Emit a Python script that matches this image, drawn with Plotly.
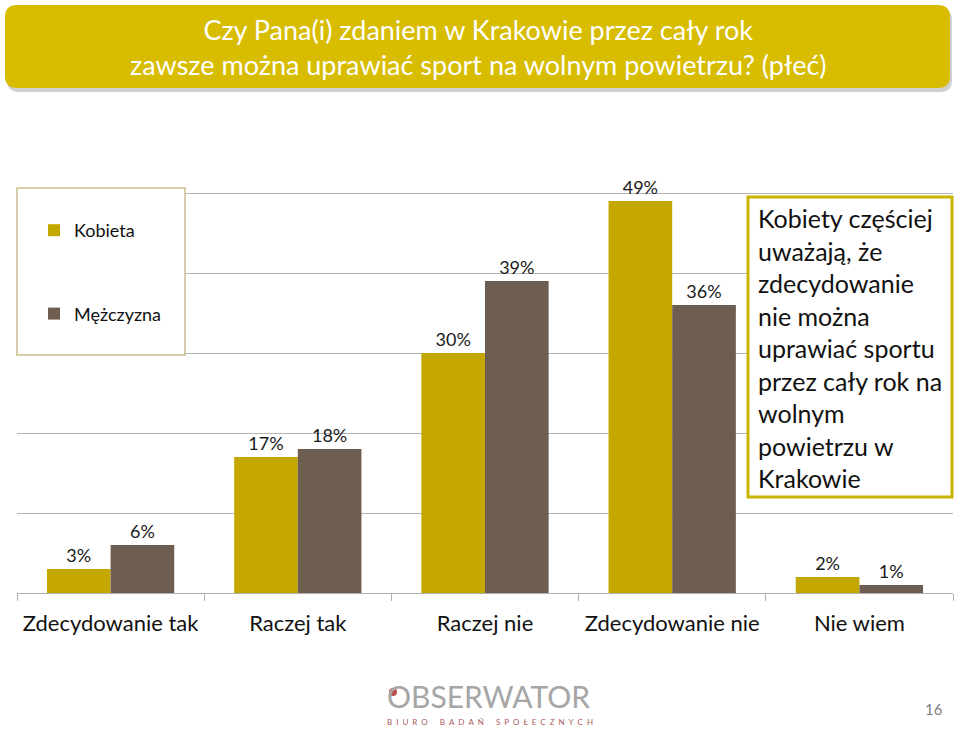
import plotly.graph_objects as go

categories = ["Zdecydowanie tak", "Raczej tak", "Raczej nie", "Zdecydowanie nie", "Nie wiem"]
kobieta = [3, 17, 30, 49, 2]
mezczyzna = [6, 18, 39, 36, 1]
series_names = ["Kobieta", "Mężczyzna"]

title_lines = ["Czy Pana(i) zdaniem w Krakowie przez cały rok",
               "zawsze można uprawiać sport na wolnym powietrzu? (płeć)"]
note_lines = ["Kobiety częściej", "uważają, że", "zdecydowanie", "nie można",
              "uprawiać sportu", "przez cały rok na", "wolnym", "powietrzu w", "Krakowie"]
logo_text = "OBSERWATOR"
logo_sub = "BIURO BADAŃ SPOŁECZNYCH"
page_no = "16"

W, H = 960, 731
L, R, T, B = 17, 7, 113, 138
PW = W - L - R
PH = H - T - B
FONT = "Lato"


def px(x):
    return (x - L) / PW


def py(y):
    return (H - B - y) / PH


def rounded_path(x0, y0, x1, y1, r):
    return (f"M {px(x0 + r)},{py(y0)} L {px(x1 - r)},{py(y0)} "
            f"Q {px(x1)},{py(y0)} {px(x1)},{py(y0 + r)} "
            f"L {px(x1)},{py(y1 - r)} Q {px(x1)},{py(y1)} {px(x1 - r)},{py(y1)} "
            f"L {px(x0 + r)},{py(y1)} Q {px(x0)},{py(y1)} {px(x0)},{py(y1 - r)} "
            f"L {px(x0)},{py(y0 + r)} Q {px(x0)},{py(y0)} {px(x0 + r)},{py(y0)} Z")


def spaced(s):
    words = s.split(" ")
    return "\u2002\u2002\u2002".join("\u2002".join(list(w)) for w in words)


fig = go.Figure()
fig.add_trace(go.Bar(
    name=series_names[0], x=categories, y=kobieta,
    marker=dict(color="#c4a800", line=dict(width=0)),
    text=[f"{v}%" for v in kobieta], textposition="outside",
    textfont=dict(family=FONT, size=18, color="#1a1a1a"),
    cliponaxis=False, legendgroup="k",
))
fig.add_trace(go.Bar(
    name=series_names[1], x=categories, y=mezczyzna,
    marker=dict(color="#6e5e52", line=dict(width=0)),
    text=[f"{v}%" for v in mezczyzna], textposition="outside",
    textfont=dict(family=FONT, size=18, color="#1a1a1a"),
    cliponaxis=False, legendgroup="m",
))

shapes = []
# title shadow + box
shapes.append(dict(type="path", xref="paper", yref="paper", path=rounded_path(7, 8, 952, 92, 12),
                   fillcolor="rgba(150,150,150,0.45)", line=dict(width=0), layer="above"))
shapes.append(dict(type="path", xref="paper", yref="paper", path=rounded_path(5, 5, 950, 88, 12),
                   fillcolor="#d8bc00", line=dict(width=0), layer="above"))
# legend box
shapes.append(dict(type="rect", xref="paper", yref="paper", x0=px(17), x1=px(185), y0=py(355), y1=py(188),
                   fillcolor="white", line=dict(color="#cbbd8f", width=1.5), layer="above"))
# note box
shapes.append(dict(type="rect", xref="paper", yref="paper", x0=px(748), x1=px(952), y0=py(497), y1=py(197),
                   fillcolor="white", line=dict(color="#c9b400", width=3), layer="above"))
# logo dot
shapes.append(dict(type="circle", xref="paper", yref="paper", x0=px(389), x1=px(397), y0=py(696), y1=py(688),
                   fillcolor="#c05050", line=dict(width=0), layer="above"))

annotations = []
annotations.append(dict(xref="paper", yref="paper", x=px(478), y=py(47), xanchor="center", yanchor="middle",
                        text="<br>".join(title_lines), showarrow=False, align="center",
                        font=dict(family=FONT, size=27, color="white")))
annotations.append(dict(xref="paper", yref="paper", x=px(756), y=py(201), xanchor="left", yanchor="top",
                        text="<br>".join(note_lines), showarrow=False, align="left",
                        font=dict(family=FONT, size=25, color="#111111")))
annotations.append(dict(xref="paper", yref="paper", x=px(488), y=py(696), xanchor="center", yanchor="middle",
                        text=logo_text, showarrow=False,
                        font=dict(family=FONT, size=30, color="#a6a6a6")))
annotations.append(dict(xref="paper", yref="paper", x=px(490), y=py(722), xanchor="center", yanchor="middle",
                        text=spaced(logo_sub), showarrow=False,
                        font=dict(family=FONT, size=8, color="#a85a5a")))
annotations.append(dict(xref="paper", yref="paper", x=px(934), y=py(709), xanchor="center", yanchor="middle",
                        text=page_no, showarrow=False,
                        font=dict(family=FONT, size=15, color="#7f7f7f")))

fig.update_layout(
    width=W, height=H,
    margin=dict(l=L, r=R, t=T, b=B, autoexpand=False),
    paper_bgcolor="white", plot_bgcolor="white",
    barmode="group", bargap=0.32, bargroupgap=0,
    font=dict(family=FONT, color="#111111"),
    showlegend=True,
    legend=dict(x=px(34), y=py(212), xanchor="left", yanchor="top",
                bgcolor="rgba(0,0,0,0)", borderwidth=0, tracegroupgap=57,
                font=dict(family=FONT, size=18, color="#111111"), traceorder="grouped"),
    xaxis=dict(showgrid=False, showline=True, linecolor="#b0b0b0", linewidth=1,
               ticks="outside", tickson="boundaries", ticklen=7, tickcolor="#b0b0b0",
               tickfont=dict(family=FONT, size=22, color="#111111"), ticklabelstandoff=11),
    yaxis=dict(range=[0, 60], dtick=10, showgrid=True, gridcolor="#b4b4b4", gridwidth=1,
               showticklabels=False, zeroline=False, showline=False, ticks=""),
    shapes=shapes, annotations=annotations,
)

fig.write_html("out.html", config={"displayModeBar": False},
               post_script="document.body.style.margin='0';document.body.style.overflow='hidden';")
